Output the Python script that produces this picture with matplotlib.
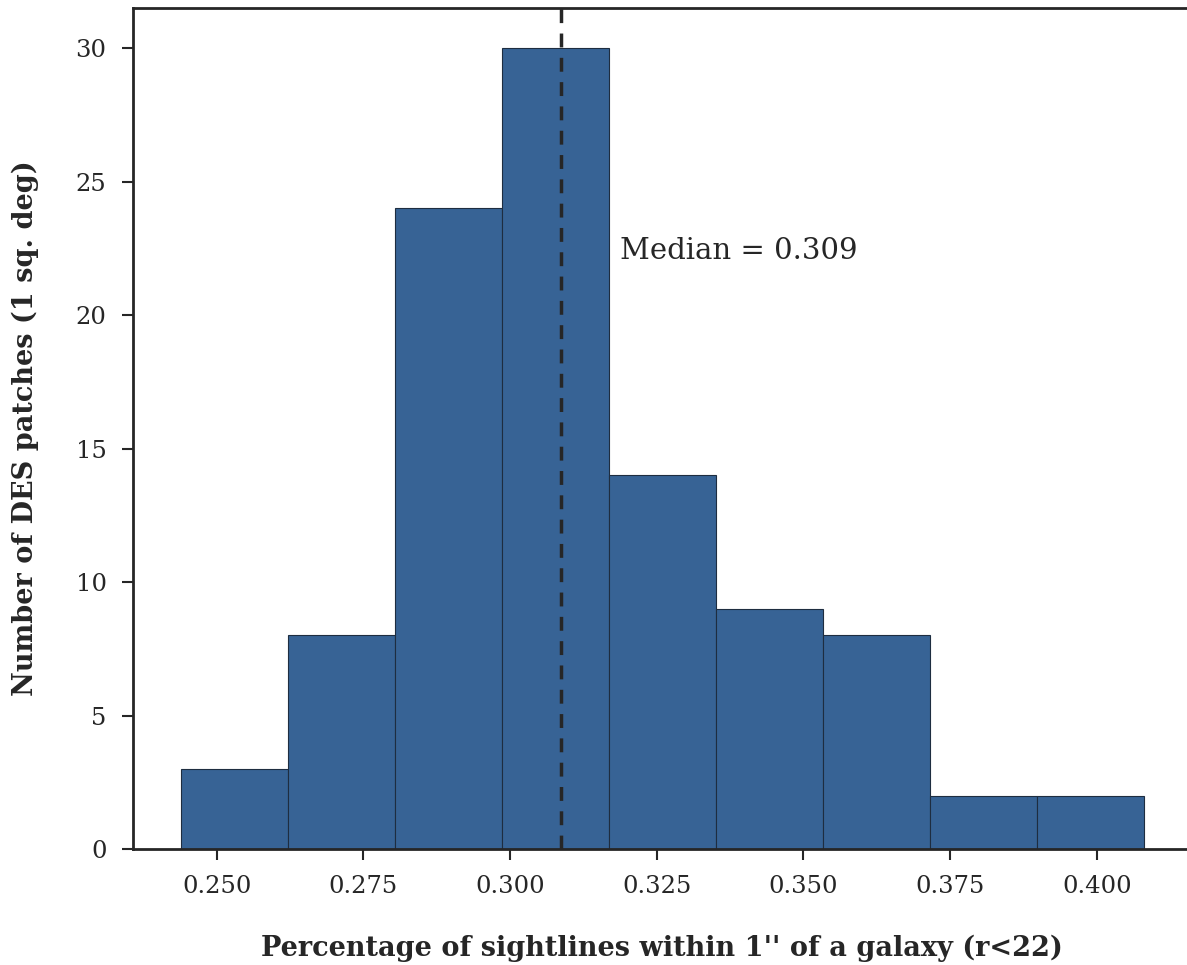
import numpy as np
import matplotlib
matplotlib.use("Agg")
import matplotlib.pyplot as plt

# Data
bin_edges = np.linspace(0.2439, 0.4080, 10)
counts = [3, 8, 24, 30, 14, 9, 8, 2, 2]
median_value = 0.3086
xticks = [0.250, 0.275, 0.300, 0.325, 0.350, 0.375, 0.400]
yticks = [0, 5, 10, 15, 20, 25, 30]

plt.rcParams['font.family'] = ['DejaVu Serif']
dark = '#262626'

fig = plt.figure(figsize=(11.87, 9.65), dpi=100)
ax = fig.add_axes([0.112, 0.1202, 0.892, 0.8715])

ax.bar(bin_edges[:-1], counts, width=np.diff(bin_edges), align='edge',
       color='#376395', edgecolor='#1e2d40', linewidth=0.8)
ax.axvline(median_value, color=dark, linestyle='--', linewidth=2.5, dashes=(4, 3))
ax.text(0.3187, 22.4, f'Median = {median_value:.3f}', fontsize=21, color=dark,
        va='center', ha='left')

ax.set_xticks(xticks)
ax.set_xticklabels([f'{t:.3f}' for t in xticks])
ax.set_yticks(yticks)
ax.tick_params(axis='both', direction='out', length=8, width=1.5, color=dark,
               labelsize=17.5, labelcolor=dark, pad=11)
for side in ['left', 'bottom', 'top']:
    ax.spines[side].set_linewidth(2)
    ax.spines[side].set_color(dark)
ax.spines['right'].set_visible(False)

ax.set_xlabel("Percentage of sightlines within 1'' of a galaxy (r<22)",
              fontsize=19.5, fontweight='bold', color=dark, labelpad=26)
ax.set_ylabel("Number of DES patches (1 sq. deg)", fontsize=19.5,
              fontweight='bold', color=dark, labelpad=26)

fig.savefig('out.png', dpi=100)
